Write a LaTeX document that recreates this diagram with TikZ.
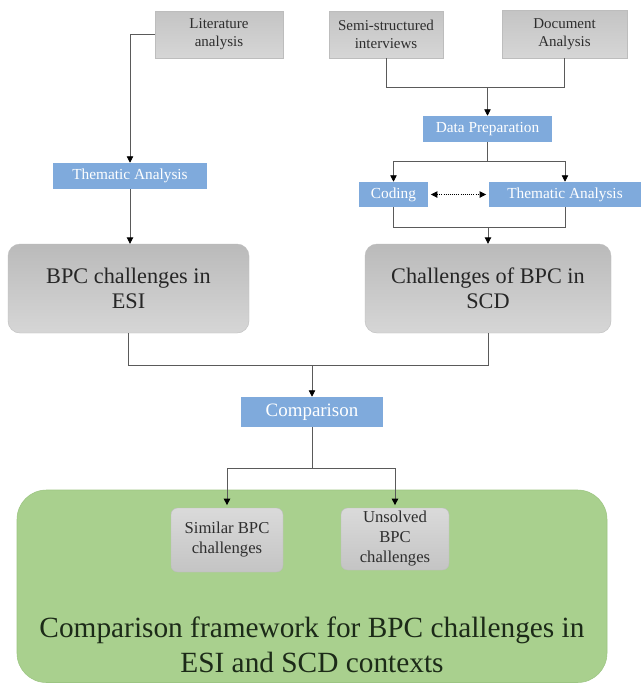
\documentclass[tikz,border=0pt]{standalone}
\usepackage{fontspec}
\setmainfont{Liberation Serif}
\usetikzlibrary{arrows.meta}
\definecolor{boxblue}{HTML}{7FAADC}
\definecolor{greyTop}{HTML}{C4C4C4}
\definecolor{greyBot}{HTML}{D6D6D6}
\definecolor{greyEdge}{HTML}{BDBDBD}
\definecolor{greenbg}{HTML}{A9D08E}
\definecolor{greenEdge}{HTML}{9CC582}
\definecolor{greentext}{HTML}{1C2A18}
\definecolor{greytext}{HTML}{2E2E2E}
\definecolor{connGrey}{HTML}{5A5A5A}
\tikzset{
  greybox/.style={draw=greyEdge, line width=0.3pt, top color=greyTop, bottom color=greyBot,
    inner sep=0pt, align=center, text=greytext},
  srcbox/.style={greybox, font=\fontsize{11.25}{13.5}\selectfont},
  bigbox/.style={greybox, rounded corners=9pt, top color=greyTop!95!black, bottom color=greyBot,
    font=\fontsize{16.7}{18.75}\selectfont, text=black!85},
  smallbox/.style={greybox, rounded corners=5pt, top color=greyBot!90!white, bottom color=greyTop,
    font=\fontsize{12.5}{15}\selectfont},
  bluebox/.style={fill=boxblue, inner sep=0pt, align=center, text=white,
    font=\fontsize{11.5}{13}\selectfont},
  conn/.style={draw=connGrey, line width=0.6pt},
  arr/.style={conn, -{Triangle[length=4.8pt,width=4.8pt,color=black]}},
}
\begin{document}
\begin{tikzpicture}[x=0.75pt, y=-0.75pt]
\useasboundingbox (0,0) rectangle (641,683);
\fill[white] (0,0) rectangle (641,683);

% green framework container
\draw[fill=greenbg, draw=greenEdge, line width=0.4pt, rounded corners=22pt]
  (17,490) rectangle (607,682.5);

% top source boxes
\node[srcbox, minimum width=96pt, minimum height=35.25pt] (lit) at (219,34.5) {Literature\\analysis};
\node[srcbox, minimum width=85.5pt, minimum height=35.25pt] (semi) at (386,34.5) {Semi-structured\\interviews};
\node[srcbox, minimum width=93.75pt, minimum height=36pt] (doc) at (564.5,34) {Document\\Analysis};

% blue process boxes
\node[bluebox, minimum width=115.5pt, minimum height=19.5pt] (thL) at (130,176) {Thematic Analysis};
\node[bluebox, minimum width=96.75pt, minimum height=19.5pt] (dp) at (487.5,129) {Data Preparation};
\node[bluebox, minimum width=51.75pt, minimum height=18.75pt] (cod) at (393.5,194.5) {Coding};
\node[bluebox, minimum width=114pt, minimum height=18.75pt] (thR) at (565,194.5) {Thematic Analysis};
\node[bluebox, minimum width=106.5pt, minimum height=22.5pt, font=\fontsize{14.2}{16}\selectfont] (cmp) at (312,412) {Comparison};

% big grey boxes
\node[bigbox, minimum width=180.75pt, minimum height=66.75pt] (esi) at (128.5,288.5) {BPC challenges in\\ESI};
\node[bigbox, minimum width=184.5pt, minimum height=66.75pt] (scd) at (488,288.5) {Challenges of BPC in\\SCD};

% small boxes in green
\node[smallbox, minimum width=84pt, minimum height=48pt] (sim) at (227,540) {Similar BPC\\challenges};
\node[smallbox, minimum width=81pt, minimum height=46.5pt] (uns) at (395,539) {Unsolved\\BPC\\challenges};

% framework title
\node[align=center, text=greentext, font=\fontsize{22}{26.25}\selectfont] (fw) at (312,645)
  {Comparison framework for BPC challenges in\\ESI and SCD contexts};

% connectors
\coordinate (litTurn) at (130,34.5);
\draw[arr] (lit.west) -- (litTurn) -- (thL.north);
\draw[arr] (thL.south) -- (thL.south |- esi.north);

\coordinate (srcJoin) at (487.5,87);
\draw[conn] (semi.south) |- (srcJoin);
\draw[conn] (doc.south) |- (srcJoin);
\draw[arr] (srcJoin) -- (dp.north);

\coordinate (dpJoin) at (487.5,161);
\draw[conn] (dp.south) -- (dpJoin);
\draw[arr] (dpJoin) -| (cod.north);
\draw[arr] (dpJoin) -| (thR.north);
\draw[densely dotted, line width=0.6pt, {Triangle[length=4.8pt,width=4.8pt]}-{Triangle[length=4.8pt,width=4.8pt]}]
  ([xshift=2pt]cod.east) -- ([xshift=-2pt]thR.west);

\coordinate (codJoin) at (488,227);
\draw[conn] (cod.south) |- (codJoin);
\draw[conn] (thR.south) |- (codJoin);
\draw[arr] (codJoin) -- (scd.north);

\coordinate (bigJoin) at (312,365);
\draw[conn] (esi.south) |- (bigJoin);
\draw[conn] (scd.south) |- (bigJoin);
\draw[arr] (bigJoin) -- (cmp.north);

\coordinate (cmpJoin) at (312,468);
\draw[conn] (cmp.south) -- (cmpJoin);
\draw[arr] (cmpJoin) -| ([yshift=2pt]sim.north);
\draw[arr] (cmpJoin) -| ([yshift=2pt]uns.north);
\end{tikzpicture}
\end{document}
